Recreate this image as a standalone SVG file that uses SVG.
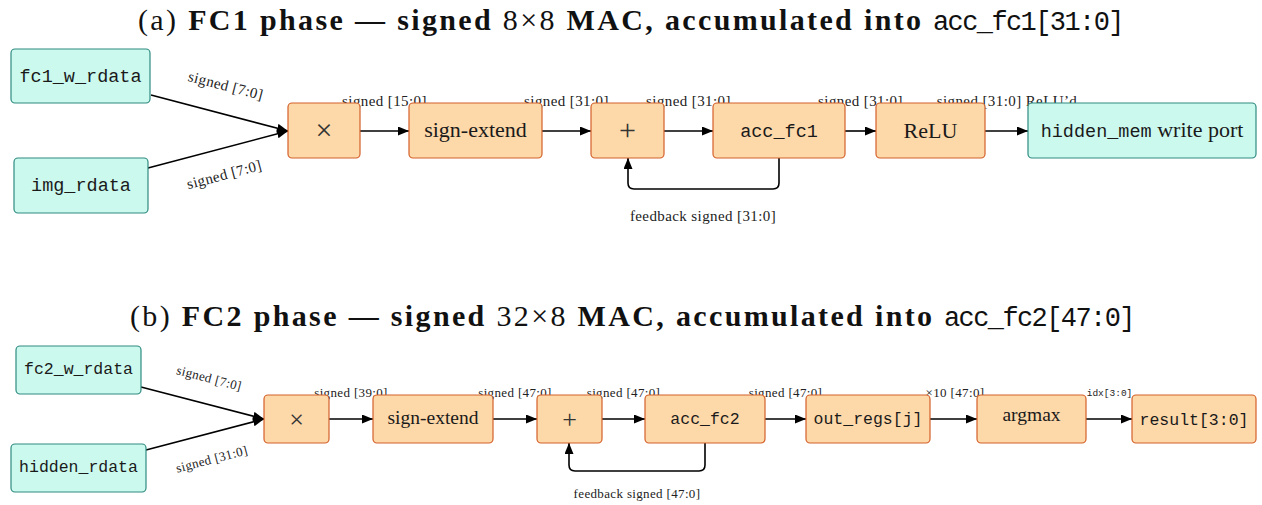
<svg xmlns="http://www.w3.org/2000/svg" width="1262" height="505" viewBox="0 0 1262 505">
<defs>
<style>
.title{font-family:"Liberation Serif",serif;font-size:30px;font-weight:bold;fill:#111}
.rg{font-weight:normal}
.ttl{font-family:"Liberation Mono",monospace;font-size:27px;letter-spacing:-1.6px;fill:#111}
.op{fill:#FDD8A9;stroke:#D4602A;stroke-width:1.2}
.io{fill:#CCF9EE;stroke:#2E8A80;stroke-width:1.2}
.ta{font-family:"Liberation Serif",serif;font-size:22px;fill:#1a1a1a;text-anchor:middle}
.ma{font-family:"Liberation Mono",monospace;font-size:18.5px;fill:#1a1a1a;text-anchor:middle}
.tb{font-family:"Liberation Serif",serif;font-size:19.5px;fill:#1a1a1a;text-anchor:middle}
.mb{font-family:"Liberation Mono",monospace;font-size:16.5px;fill:#1a1a1a;text-anchor:middle}
.tt{font-family:"Liberation Mono",monospace}
.sa{font-family:"Liberation Serif",serif;font-size:30px;fill:#333;text-anchor:middle}
.sb{font-family:"Liberation Serif",serif;font-size:26px;fill:#333;text-anchor:middle}
.la{font-family:"Liberation Serif",serif;font-size:15px;letter-spacing:0.4px;fill:#222;text-anchor:middle}
.lb{font-family:"Liberation Serif",serif;font-size:13px;letter-spacing:0.35px;fill:#222;text-anchor:middle}
.lm{font-family:"Liberation Mono",monospace;font-size:9.5px;fill:#222;text-anchor:middle}
.e{fill:none;stroke:#000;stroke-width:1.6}
</style>
<marker id="ah" markerUnits="userSpaceOnUse" markerWidth="12" markerHeight="10" refX="11" refY="4.5" orient="auto">
<path d="M0,0 L11,4.5 L0,9 Z" fill="#000"/>
</marker>
</defs>

<g id="title-a">
<text class="title" x="138" y="30" textLength="783" lengthAdjust="spacing"><tspan class="rg">(a) </tspan>FC1 phase — signed <tspan class="rg">8×8</tspan> MAC, accumulated into</text>
<text class="ttl" x="933" y="30">acc_fc1[31:0]</text>
</g>
<g id="title-b">
<text class="title" x="130" y="326" textLength="802" lengthAdjust="spacing"><tspan class="rg">(b) </tspan>FC2 phase — signed <tspan class="rg">32×8</tspan> MAC, accumulated into</text>
<text class="ttl" x="944" y="326">acc_fc2[47:0]</text>
</g>

<g id="connectors">
<path class="e" d="M151,95 L288,131" marker-end="url(#ah)"/>
<path class="e" d="M148,168 L288,131" marker-end="url(#ah)"/>
<path class="e" d="M360,131 H409" marker-end="url(#ah)"/>
<path class="e" d="M542,131 H591" marker-end="url(#ah)"/>
<path class="e" d="M664,131 H713" marker-end="url(#ah)"/>
<path class="e" d="M845,131 H876" marker-end="url(#ah)"/>
<path class="e" d="M985,131 H1028" marker-end="url(#ah)"/>
<path class="e" d="M779,158 V183 Q779,189 773,189 H634 Q628,189 628,183 V158" marker-end="url(#ah)"/>

<path class="e" d="M141,387 L264,419" marker-end="url(#ah)"/>
<path class="e" d="M146,450 L264,419" marker-end="url(#ah)"/>
<path class="e" d="M329,419 H373" marker-end="url(#ah)"/>
<path class="e" d="M493,419 H537" marker-end="url(#ah)"/>
<path class="e" d="M602,419 H645" marker-end="url(#ah)"/>
<path class="e" d="M765,419 H806" marker-end="url(#ah)"/>
<path class="e" d="M930,419 H977" marker-end="url(#ah)"/>
<path class="e" d="M1086,419 H1132" marker-end="url(#ah)"/>
<path class="e" d="M705,443 V465 Q705,471 699,471 H575 Q569,471 569,465 V443" marker-end="url(#ah)"/>

<text class="la" transform="translate(225.5,86.5) rotate(14.6)" y="4">signed [7:0]</text>
<text class="la" transform="translate(224.5,175.5) rotate(-14.8)" y="4">signed [7:0]</text>
<text class="la" x="384.5" y="106">signed [15:0]</text>
<text class="la" x="566.5" y="106">signed [31:0]</text>
<text class="la" x="688.5" y="106">signed [31:0]</text>
<text class="la" x="860.5" y="106">signed [31:0]</text>
<text class="la" x="1007" y="106">signed [31:0] ReLU’d</text>
<text class="la" x="703" y="221">feedback signed [31:0]</text>

<text class="lb" transform="translate(209,379) rotate(14.6)" y="3.5">signed [7:0]</text>
<text class="lb" transform="translate(212,460) rotate(-14.7)" y="3.5">signed [31:0]</text>
<text class="lb" x="351" y="397">signed [39:0]</text>
<text class="lb" x="515" y="397">signed [47:0]</text>
<text class="lb" x="623.5" y="397">signed [47:0]</text>
<text class="lb" x="785.5" y="397">signed [47:0]</text>
<text class="lb" x="955" y="397">×10 [47:0]</text>
<text class="lm" x="1109.5" y="396">idx[3:0]</text>
<text class="lb" x="637" y="498">feedback signed [47:0]</text>
</g>

<g id="fc1_w_rdata"><rect class="io" x="11" y="49" width="139" height="54" rx="4"/><text class="ma" x="80.5" y="81.5">fc1_w_rdata</text></g>
<g id="img_rdata"><rect class="io" x="14" y="158" width="134" height="55" rx="4"/><text class="ma" x="81" y="190.5">img_rdata</text></g>
<g id="mul1"><rect class="op" x="288" y="103" width="72" height="55" rx="4"/><text class="sa" x="324" y="140">×</text></g>
<g id="sext1"><rect class="op" x="409" y="103" width="133" height="55" rx="4"/><text class="ta" x="475.5" y="136.5">sign-extend</text></g>
<g id="add1"><rect class="op" x="591" y="103" width="73" height="55" rx="4"/><text class="sa" x="627.5" y="140">+</text></g>
<g id="acc_fc1"><rect class="op" x="713" y="103" width="132" height="55" rx="4"/><text class="ma" x="779" y="136.5">acc_fc1</text></g>
<g id="relu"><rect class="op" x="876" y="103" width="109" height="55" rx="4"/><text class="ta" x="930.5" y="138">ReLU</text></g>
<g id="hidden_mem"><rect class="io" x="1028" y="103" width="228" height="55" rx="4"/><text class="ta" x="1142" y="137"><tspan class="tt" font-size="18.5px">hidden_mem</tspan> write port</text></g>

<g id="fc2_w_rdata"><rect class="io" x="16" y="346" width="125" height="48" rx="4"/><text class="mb" x="78.5" y="374">fc2_w_rdata</text></g>
<g id="hidden_rdata"><rect class="io" x="11" y="444" width="135" height="48" rx="4"/><text class="mb" x="78.5" y="472">hidden_rdata</text></g>
<g id="mul2"><rect class="op" x="264" y="395" width="65" height="48" rx="4"/><text class="sb" x="296.5" y="427.5">×</text></g>
<g id="sext2"><rect class="op" x="373" y="395" width="120" height="48" rx="4"/><text class="tb" x="433" y="424">sign-extend</text></g>
<g id="add2"><rect class="op" x="537" y="395" width="65" height="48" rx="4"/><text class="sb" x="569.5" y="427.5">+</text></g>
<g id="acc_fc2"><rect class="op" x="645" y="395" width="120" height="48" rx="4"/><text class="mb" x="705" y="424">acc_fc2</text></g>
<g id="out_regs"><rect class="op" x="806" y="395" width="124" height="48" rx="4"/><text class="mb" x="868" y="424">out_regs[j]</text></g>
<g id="argmax"><rect class="op" x="977" y="395" width="109" height="48" rx="4"/><text class="tb" x="1031.5" y="421">argmax</text></g>
<g id="result"><rect class="op" x="1132" y="395" width="124" height="48" rx="4"/><text class="mb" x="1194" y="425">result[3:0]</text></g>
</svg>
